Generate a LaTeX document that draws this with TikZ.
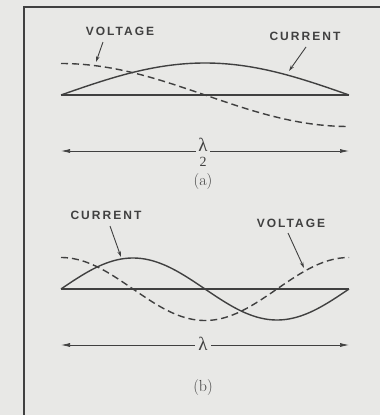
\documentclass[tikz,border=0pt]{standalone}
\usepackage{fontspec}
\setsansfont{Liberation Sans}
\newfontfamily\grkfont{Liberation Serif}
\usetikzlibrary{arrows.meta}
\definecolor{bg}{RGB}{232,232,230}
\definecolor{ink}{RGB}{64,64,64}
\begin{document}
\begin{tikzpicture}[x=1pt,y=-1pt,
  curve/.style={draw=ink, line width=1.4pt},
  dashcurve/.style={curve, dash pattern=on 7pt off 4pt},
  base/.style={draw=ink, line width=1.9pt},
  dim/.style={draw=ink, line width=0.7pt, {Latex[length=9pt,width=4pt]}-{Latex[length=9pt,width=4pt]}},
  pointer/.style={draw=ink, line width=0.9pt, -{Stealth[length=6pt,width=3.5pt]}},
  lab/.style={font=\sffamily\bfseries\fontsize{12}{12}\selectfont\addfontfeature{LetterSpace=17}, text=ink, inner sep=0pt},
  dimlab/.style={fill=bg, text=ink, inner sep=3pt},
  lamfont/.style={font=\grkfont\fontsize{19}{19}\selectfont},
  captionlab/.style={text=ink, inner sep=0pt, font=\fontsize{16}{16}\selectfont}]
\fill[bg] (0,0) rectangle (380,415);
\useasboundingbox (0,0) rectangle (380,415);
% frame
\draw[ink, line width=1.5pt] (24,415) -- (24,7) -- (380,7);

% ---------- panel (a)
\coordinate (a0) at (61,95);
\coordinate (a1) at (349,95);
\draw[dashcurve] plot[domain=61:349,samples=90,smooth] (\x,{95-31.5*cos((\x-61)/288*180)});
\draw[curve] plot[domain=61:349,samples=90,smooth] (\x,{95-32*sin((\x-61)/288*180)});
\draw[base] (a0) -- (a1);

\node[lab] (va) at (120,31) {VOLTAGE};
\coordinate (vas) at (103,42);
\coordinate (vat) at (96,62);
\draw[pointer] (vas) -- (vat);

\node[lab] (ca) at (305,36) {CURRENT};
\coordinate (cas) at (306,47);
\coordinate (cat) at (289,71);
\draw[pointer] (cas) -- (cat);

\coordinate (da0) at (61,151);
\coordinate (da1) at (349,151);
\draw[dim] (da0) -- (da1);
\node[dimlab, lamfont, inner sep=2pt] (la) at (203,145) {λ};
\node[text=ink, inner sep=0.5pt, font=\grkfont\fontsize{14}{14}\selectfont] (la2) at (203,162) {2};
\node[captionlab] (capa) at (203,182) {(a)};

% ---------- panel (b)
\coordinate (b0) at (61,289);
\coordinate (b1) at (349,289);
\draw[dashcurve] plot[domain=61:349,samples=120,smooth] (\x,{289-31.5*cos((\x-61)/288*360)});
\draw[curve] plot[domain=61:349,samples=120,smooth] (\x,{289-31*sin((\x-61)/288*360)});
\draw[base] (b0) -- (b1);

\node[lab] (cb) at (106,215) {CURRENT};
\coordinate (cbs) at (110,226);
\coordinate (cbt) at (121,257);
\draw[pointer] (cbs) -- (cbt);

\node[lab] (vb) at (291,223) {VOLTAGE};
\coordinate (vbs) at (288,233);
\coordinate (vbt) at (304,268);
\draw[pointer] (vbs) -- (vbt);

\coordinate (db0) at (61,345);
\coordinate (db1) at (349,345);
\draw[dim] (db0) -- (db1);
\node[dimlab, lamfont] (lb) at (203,344) {λ};
\node[captionlab] (capb) at (203,388) {(b)};
\end{tikzpicture}
\end{document}
